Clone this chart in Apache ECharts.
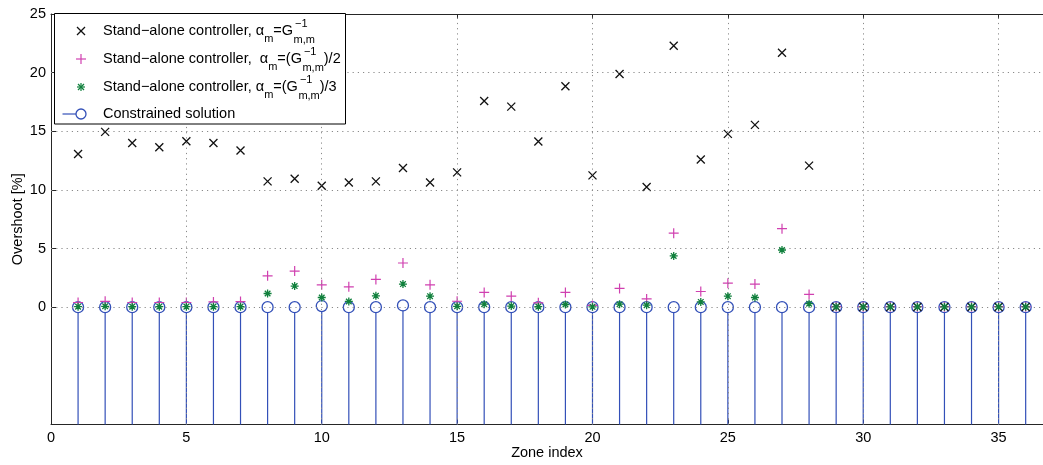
<!DOCTYPE html>
<html>
<head>
<meta charset="utf-8">
<script src="https://cdn.jsdelivr.net/npm/echarts@6/dist/echarts.min.js"></script>
<style>
html,body{margin:0;padding:0;background:#fff;}
#chart{width:1043px;height:465px;}
</style>
</head>
<body>
<div id="chart"></div>
<script>
// ---------- data ----------
const zones = [1,2,3,4,5,6,7,8,9,10,11,12,13,14,15,16,17,18,19,20,21,22,23,24,25,26,27,28,29,30,31,32,33,34,35,36];
const alphaFull = [13.07,14.95,14.0,13.64,14.15,14.0,13.36,10.73,10.96,10.36,10.64,10.73,11.87,10.64,11.5,17.58,17.1,14.13,18.84,11.24,19.89,10.25,22.29,12.59,14.78,15.55,21.69,12.07,0.02,0.02,0.02,0.02,0.02,0.02,0.02,0.02];
const alphaHalf = [0.4,0.5,0.4,0.4,0.4,0.45,0.48,2.68,3.08,1.91,1.74,2.37,3.77,1.91,0.51,1.26,0.94,0.37,1.26,0.15,1.6,0.71,6.31,1.34,2.05,1.97,6.7,1.09,0.05,0.05,0.05,0.05,0.05,0.05,0.05,0.05];
const alphaThird = [0.05,0.08,0.05,0.05,0.05,0.05,0.05,1.17,1.8,0.83,0.49,0.97,1.97,0.94,0.08,0.26,0.1,0.05,0.23,0.03,0.26,0.17,4.37,0.45,0.94,0.83,4.88,0.3,0.03,0.03,0.03,0.03,0.03,0.03,0.03,0.03];
const constrained = [0,0,0,0,0,0,0,0,0,0.1,0,0,0.15,0,0,0,0,0,0,0,0,0,0,0,0,0,0,0,0,0,0,0,0,0,0,0];
const xTicks = [0,5,10,15,20,25,30,35];
const yTicks = [0,5,10,15,20,25];
const xGrid = [5,10,15,20,25,30,35];
const yGrid = [0,5,10,15,20];

// ---------- style ----------
const FONT = '"Liberation Sans", Arial, Helvetica, sans-serif';
const FS = 14.5;
const SUBFS = 11;
const BLUE = '#3350b8';
const MAGENTA = '#d040b0';
const GREEN = '#10803c';
const BLACK = '#111';
const Y_MIN = -10, Y_MAX = 25, X_MIN = 0, X_MAX = 36.64;

const pair = (arr) => zones.map((z, i) => [z, arr[i]]);

const chart = echarts.init(document.getElementById('chart'), null, {renderer: 'canvas'});

// text measurement for legend layout
const mctx = document.createElement('canvas').getContext('2d');
function tw(text, size) { mctx.font = size + 'px ' + FONT; return mctx.measureText(text).width; }

function txt(text, x, y, size) {
  return {type: 'text', x: x, y: y, z: 101, silent: true,
    style: {text: text, font: size + 'px ' + FONT, fill: '#000', align: 'left', verticalAlign: 'middle'}};
}

// build a legend row made of pieces
function legendRow(y, pre, afterG) {
  const els = [];
  let x = 103;
  els.push(txt(pre, x, y, FS)); x += tw(pre, FS);
  els.push(txt('α', x, y, FS)); x += tw('α', FS);
  els.push(txt('m', x, y + 8, SUBFS)); x += tw('m', SUBFS);
  els.push(txt(afterG[0], x, y, FS)); x += tw(afterG[0], FS) + 0.5;
  els.push(txt('−1', x + 1.5, y - 7, SUBFS));
  els.push(txt('m,m', x, y + 9, SUBFS));
  x += Math.max(tw('−1', SUBFS) + 1.5, tw('m,m', SUBFS));
  if (afterG[1]) els.push(txt(afterG[1], x, y, FS));
  return els;
}

const legendEls = [];
legendEls.push({type: 'rect', z: 100, silent: true, shape: {x: 54.5, y: 13.5, width: 291, height: 110.5},
  style: {fill: '#fff', stroke: '#000', lineWidth: 1}});
const mx = 81;
const rows = [31, 59, 87, 114];
legendEls.push({type: 'line', z: 101, shape: {x1: mx - 4, y1: rows[0] - 4, x2: mx + 4, y2: rows[0] + 4}, style: {stroke: BLACK, lineWidth: 1.2}});
legendEls.push({type: 'line', z: 101, shape: {x1: mx - 4, y1: rows[0] + 4, x2: mx + 4, y2: rows[0] - 4}, style: {stroke: BLACK, lineWidth: 1.2}});
legendEls.push({type: 'line', z: 101, shape: {x1: mx - 5, y1: rows[1], x2: mx + 5, y2: rows[1]}, style: {stroke: MAGENTA, lineWidth: 1.2}});
legendEls.push({type: 'line', z: 101, shape: {x1: mx, y1: rows[1] - 5, x2: mx, y2: rows[1] + 5}, style: {stroke: MAGENTA, lineWidth: 1.2}});
legendEls.push({type: 'line', z: 101, shape: {x1: mx - 4, y1: rows[2], x2: mx + 4, y2: rows[2]}, style: {stroke: GREEN, lineWidth: 1.2}});
legendEls.push({type: 'line', z: 101, shape: {x1: mx, y1: rows[2] - 4, x2: mx, y2: rows[2] + 4}, style: {stroke: GREEN, lineWidth: 1.2}});
legendEls.push({type: 'line', z: 101, shape: {x1: mx - 3, y1: rows[2] - 3, x2: mx + 3, y2: rows[2] + 3}, style: {stroke: GREEN, lineWidth: 1.2}});
legendEls.push({type: 'line', z: 101, shape: {x1: mx - 3, y1: rows[2] + 3, x2: mx + 3, y2: rows[2] - 3}, style: {stroke: GREEN, lineWidth: 1.2}});
legendEls.push({type: 'line', z: 101, shape: {x1: 62.5, y1: rows[3], x2: mx - 5, y2: rows[3]}, style: {stroke: BLUE, lineWidth: 1.2}});
legendEls.push({type: 'circle', z: 101, shape: {cx: mx, cy: rows[3], r: 5}, style: {fill: 'none', stroke: BLUE, lineWidth: 1.3}});
legendEls.push(...legendRow(rows[0], 'Stand−alone controller, ', ['=G', '']));
legendEls.push(...legendRow(rows[1], 'Stand−alone controller,  ', ['=(G', ')/2']));
legendEls.push(...legendRow(rows[2], 'Stand−alone controller, ', ['=(G', ')/3']));
legendEls.push(txt('Constrained solution', 103, rows[3], FS));

const P_X = 'path://M0,0L10,10M0,10L10,0';
const P_PLUS = 'path://M5,0L5,10M0,5L10,5';
const P_STAR = 'path://M5,0L5,10M0,5L10,5M1.5,1.5L8.5,8.5M1.5,8.5L8.5,1.5';

const axisCommon = {
  type: 'value', min: X_MIN, max: X_MAX, interval: 5,
  axisLine: {show: true, onZero: false, lineStyle: {color: '#262626', width: 1}},
  axisTick: {show: true, inside: true, length: 5, customValues: xTicks, lineStyle: {color: '#262626'}},
  splitLine: {show: false}
};

const option = {
  animation: false,
  backgroundColor: '#fff',
  grid: {left: 51, right: 0, top: 14, bottom: 40.5, containLabel: false, outerBoundsMode: 'none'},
  xAxis: [
    Object.assign({}, axisCommon, {
      position: 'bottom',
      name: 'Zone index', nameLocation: 'middle', nameGap: 21, nameMoveOverlap: false,
      nameTextStyle: {fontFamily: FONT, fontSize: FS, color: '#000'},
      axisLabel: {show: true, margin: 6, customValues: xTicks, fontFamily: FONT, fontSize: FS, color: '#000',
        formatter: (v) => (xTicks.indexOf(v) >= 0 ? String(v) : '')}
    }),
    Object.assign({}, axisCommon, {position: 'top', axisLabel: {show: false}})
  ],
  yAxis: {
    type: 'value', min: Y_MIN, max: Y_MAX, interval: 5,
    name: 'Overshoot [%]', nameLocation: 'middle', nameGap: 26, nameRotate: 90, nameMoveOverlap: false,
    nameTextStyle: {fontFamily: FONT, fontSize: FS, color: '#000'},
    axisLine: {show: true, onZero: false, lineStyle: {color: '#262626', width: 1}},
    axisTick: {show: true, inside: true, length: 5, customValues: yTicks, lineStyle: {color: '#262626'}},
    axisLabel: {show: true, margin: 5, customValues: yTicks, fontFamily: FONT, fontSize: FS, color: '#000',
      formatter: (v) => (v >= 0 ? String(v) : '')},
    splitLine: {show: false}
  },
  graphic: legendEls,
  series: [
    {
      type: 'scatter', name: 'grid', data: [], z: 1, silent: true,
      markLine: {
        silent: true, symbol: 'none', animation: false,
        label: {show: false},
        lineStyle: {color: '#8a8a8a', type: [1.2, 4], width: 1},
        data: xGrid.map(v => ({xAxis: v})).concat(yGrid.map(v => ({yAxis: v})))
      }
    },
    {
      type: 'custom', name: 'stems', z: 2, silent: true,
      data: pair(constrained),
      renderItem: function (params, api) {
        const x = api.value(0), v = api.value(1);
        const p0 = api.coord([x, Y_MIN]);
        const p1 = api.coord([x, v]);
        return {type: 'line', shape: {x1: p0[0], y1: p0[1], x2: p1[0], y2: p1[1] + 5},
          style: {stroke: BLUE, lineWidth: 1.2}};
      }
    },
    {
      type: 'scatter', name: 'Constrained solution', z: 3, silent: true,
      symbol: 'circle', symbolSize: 11,
      itemStyle: {color: 'rgba(0,0,0,0)', borderColor: BLUE, borderWidth: 1.3, opacity: 1},
      data: pair(constrained)
    },
    {
      type: 'scatter', name: 'full', z: 4, silent: true,
      symbol: P_X, symbolSize: 8,
      itemStyle: {color: 'rgba(0,0,0,0)', borderColor: BLACK, borderWidth: 1.3, opacity: 1},
      data: pair(alphaFull)
    },
    {
      type: 'scatter', name: 'half', z: 4, silent: true,
      symbol: P_PLUS, symbolSize: 10,
      itemStyle: {color: 'rgba(0,0,0,0)', borderColor: MAGENTA, borderWidth: 1.2, opacity: 1},
      data: pair(alphaHalf)
    },
    {
      type: 'scatter', name: 'third', z: 5, silent: true,
      symbol: P_STAR, symbolSize: 8,
      itemStyle: {color: 'rgba(0,0,0,0)', borderColor: GREEN, borderWidth: 1.3, opacity: 1},
      data: pair(alphaThird)
    }
  ]
};
chart.setOption(option);
</script>
</body>
</html>
